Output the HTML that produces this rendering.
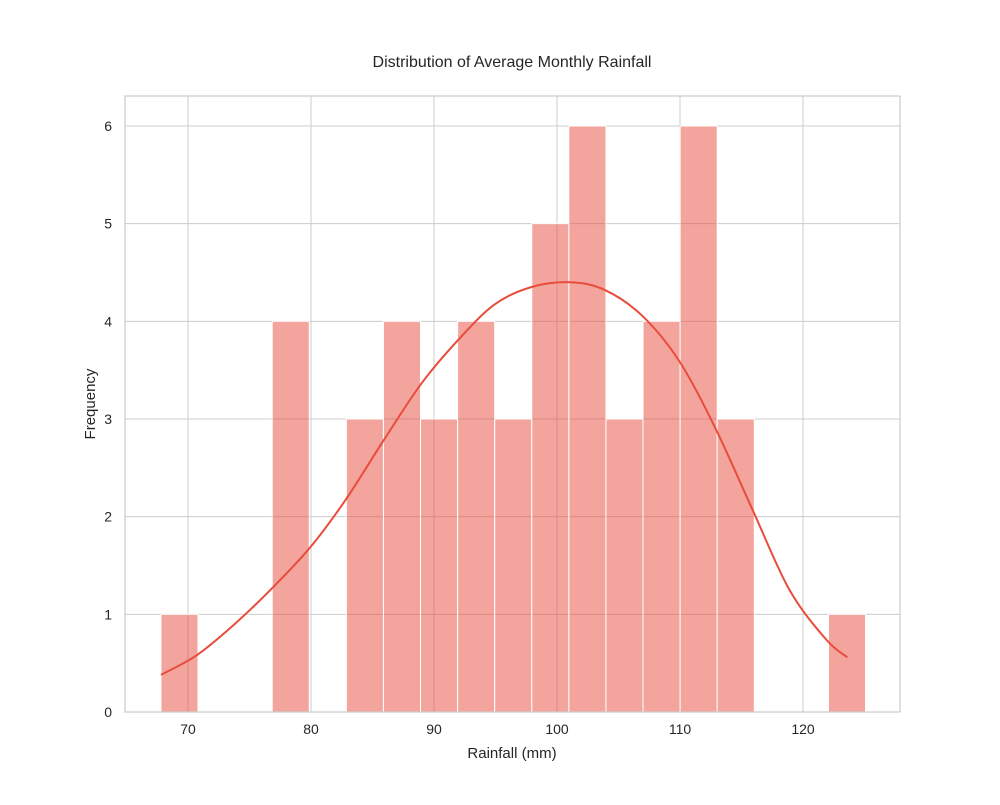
<!DOCTYPE html>
<html><head><meta charset="utf-8"><style>
body{margin:0;background:#fff;font-family:"Liberation Sans","DejaVu Sans",sans-serif}
svg text{font-family:"Liberation Sans","DejaVu Sans",sans-serif;fill:#262626}
</style></head><body>
<svg id="c" width="1000" height="800"></svg>
<script>
const binStart = 67.8;
const binWidth = 3.015;
const counts = [1,0,0,4,0,3,4,3,4,3,5,6,3,4,6,3,0,0,1];
const kdeX = [67.8,70.7,73.7,76.7,79.9,82.8,85.9,88.9,91.9,94.9,97.9,101.1,103.9,106.9,109.9,112.9,115.9,118.9,121.9,123.6];
const kdeY = [0.38,0.58,0.89,1.25,1.68,2.17,2.78,3.35,3.8,4.17,4.35,4.40,4.32,4.06,3.6,2.9,2.07,1.25,0.74,0.56];
const xTicks = [70,80,90,100,110,120];
const yTicks = [0,1,2,3,4,5,6];

const L=125,R=900,T=96,B=712;
const x=v=>188+(v-70)*12.3;
const y=v=>712-v*97.67;
const svg=document.getElementById('c');
const NS='http://www.w3.org/2000/svg';
function mk(t,a,p){const e=document.createElementNS(NS,t);for(const k in a)e.setAttribute(k,a[k]);(p||svg).appendChild(e);return e;}

const grid=mk('g',{});


xTicks.forEach(t=>{
  mk('line',{x1:x(t),x2:x(t),y1:T,y2:B,stroke:'#cccccc','stroke-width':1},grid);
  const tx=mk('text',{x:x(t),y:B+22,'text-anchor':'middle','font-size':14});
  tx.textContent=t;
  
  
});
yTicks.forEach(t=>{
  mk('line',{x1:L,x2:R,y1:y(t),y2:y(t),stroke:'#cccccc','stroke-width':1},grid);
  const tx=mk('text',{x:L-13,y:y(t)+5,'text-anchor':'end','font-size':14});
  tx.textContent=t;
  
  
});

counts.forEach((c,i)=>{
  if(!c)return;
  const x0=x(binStart+i*binWidth),x1=x(binStart+(i+1)*binWidth);
  const r=mk('rect',{x:x0,y:y(c),width:x1-x0,height:y(0)-y(c),fill:'rgba(231,76,60,0.5)',stroke:'#fff','stroke-width':1});
  
  
});

const pts=kdeX.map((v,i)=>[x(v),y(kdeY[i])]);
let d='M'+pts[0][0]+','+pts[0][1];
for(let i=0;i<pts.length-1;i++){
  const p0=pts[Math.max(0,i-1)],p1=pts[i],p2=pts[i+1],p3=pts[Math.min(pts.length-1,i+2)];
  const c1=[p1[0]+(p2[0]-p0[0])/6,p1[1]+(p2[1]-p0[1])/6];
  const c2=[p2[0]-(p3[0]-p1[0])/6,p2[1]-(p3[1]-p1[1])/6];
  d+=' C'+c1[0]+','+c1[1]+' '+c2[0]+','+c2[1]+' '+p2[0]+','+p2[1];
}
const p=mk('path',{d:d,fill:'none',stroke:'#e74c3c','stroke-width':2});



const fr=mk('rect',{x:L,y:T,width:R-L,height:B-T,fill:'none',stroke:'#cccccc','stroke-width':1.25});



const ti=mk('text',{x:512,y:67,'text-anchor':'middle','font-size':16});
ti.textContent='Distribution of Average Monthly Rainfall';


const xl=mk('text',{x:512,y:758,'text-anchor':'middle','font-size':15});
xl.textContent='Rainfall (mm)';


const yl=mk('text',{x:95,y:404,'text-anchor':'middle','font-size':15,transform:'rotate(-90 95 404)'});
yl.textContent='Frequency';


</script>
</body></html>
